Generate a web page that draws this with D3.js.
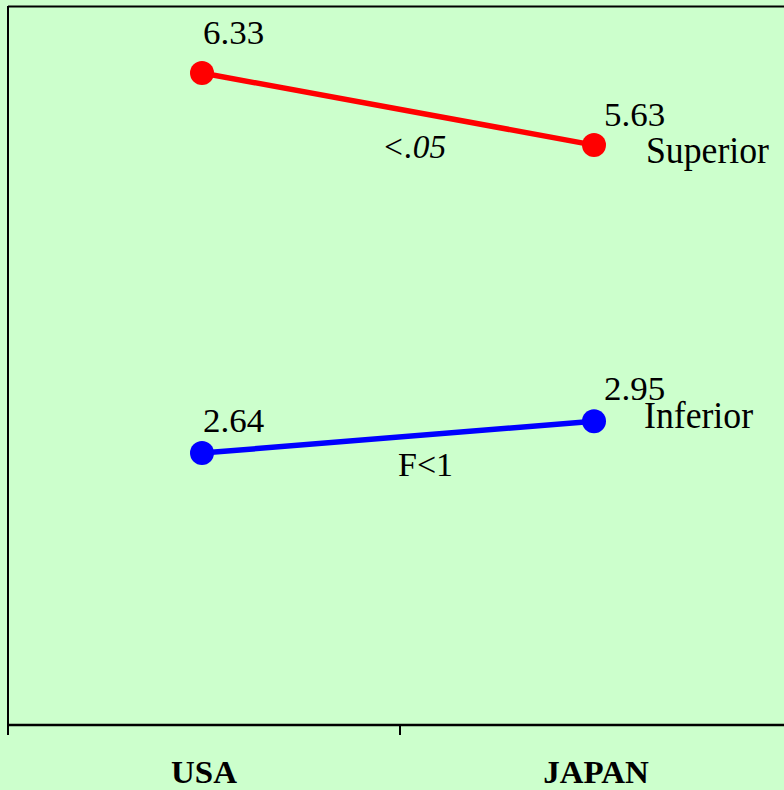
<!DOCTYPE html>
<html><head><meta charset="utf-8">
<script src="https://cdn.jsdelivr.net/npm/d3@7"></script>
<style>html,body{margin:0;padding:0;background:#ccffcc;}svg{display:block;}</style>
</head><body>
<script>
const categories = ["USA", "JAPAN"];
const seriesNames = ["Superior", "Inferior"];
const superiorValues = [6.33, 5.63];
const inferiorValues = [2.64, 2.95];
const seriesTests = ["<.05", "F<1"];
const seriesColors = ["#ff0000", "#0000ff"];

const W = 784, H = 790;
const svg = d3.select("body").append("svg").attr("width", W).attr("height", H);
svg.append("rect").attr("width", W).attr("height", H).attr("fill", "#ccffcc");

const x = d3.scaleBand().domain(categories).range([8, 792]);
const y = d3.scaleLinear().domain([0, 7]).range([725, 4]);
const cx = d => x(d) + x.bandwidth() / 2 - 2;

const FONT = "Liberation Serif";
function txt(g, s, px, py, opts = {}) {
  const t = g.append("text")
    .attr("transform", `translate(${px},${py}) scale(${opts.sx || 1},1)`)
    .attr("font-family", FONT)
    .attr("font-size", opts.size || 33)
    .attr("fill", "#000")
    .attr("text-anchor", opts.anchor || "start")
    .text(s);
  if (opts.italic) t.attr("font-style", "italic");
  if (opts.bold) t.attr("font-weight", "bold");
  return t;
}

// frame: top line and left axis
svg.append("line").attr("x1", 8).attr("x2", W).attr("y1", 6.5).attr("y2", 6.5)
  .attr("stroke", "#000").attr("stroke-width", 2);
svg.append("line").attr("x1", 8).attr("x2", 8).attr("y1", 6).attr("y2", 735)
  .attr("stroke", "#000").attr("stroke-width", 2);
// bottom axis
svg.append("line").attr("x1", 8).attr("x2", W).attr("y1", y(0)).attr("y2", y(0))
  .attr("stroke", "#000").attr("stroke-width", 2.5);
svg.selectAll(".tick").data(categories).enter().append("line")
  .attr("x1", d => x(d)).attr("x2", d => x(d))
  .attr("y1", y(0)).attr("y2", 735)
  .attr("stroke", "#000").attr("stroke-width", 2);
categories.forEach(c => {
  txt(svg, c, x(c) + x.bandwidth() / 2, 783, { anchor: "middle", bold: true, size: 32, sx: 1.03 });
});

const series = [
  { name: seriesNames[0], values: superiorValues, color: seriesColors[0], test: seriesTests[0],
    labelDy: [-29, -19], nameDx: 52, nameDy: 18, testDx: -16, testDy: 49, italic: true, testSx: 0.98 },
  { name: seriesNames[1], values: inferiorValues, color: seriesColors[1], test: seriesTests[1],
    labelDy: [-21.5, -21.5], nameDx: 50, nameDy: 7, testDx: 0, testDy: 39, italic: false, testSx: 1.0 }
];

const line = d3.line().x((d, i) => cx(categories[i])).y(d => y(d));

series.forEach(s => {
  svg.append("path").attr("d", line(s.values)).attr("fill", "none")
    .attr("stroke", s.color).attr("stroke-width", 5.5);
  s.values.forEach((v, i) => {
    svg.append("circle").attr("cx", cx(categories[i])).attr("cy", y(v)).attr("r", 12)
      .attr("fill", s.color);
    const lx = cx(categories[i]) + (i === 0 ? 1 : 10);
    txt(svg, v.toFixed(2), lx, y(v) + s.labelDy[i], { size: 33, sx: 1.06 });
  });
  const last = s.values.length - 1;
  txt(svg, s.name, cx(categories[last]) + s.nameDx, y(s.values[last]) + s.nameDy, { size: 38, sx: 0.94 });
  const mx = (cx(categories[0]) + cx(categories[last])) / 2;
  const my = (y(s.values[0]) + y(s.values[last])) / 2;
  txt(svg, s.test, mx + s.testDx, my + s.testDy, { italic: s.italic, size: 34, sx: s.testSx });
});
</script>
</body></html>
